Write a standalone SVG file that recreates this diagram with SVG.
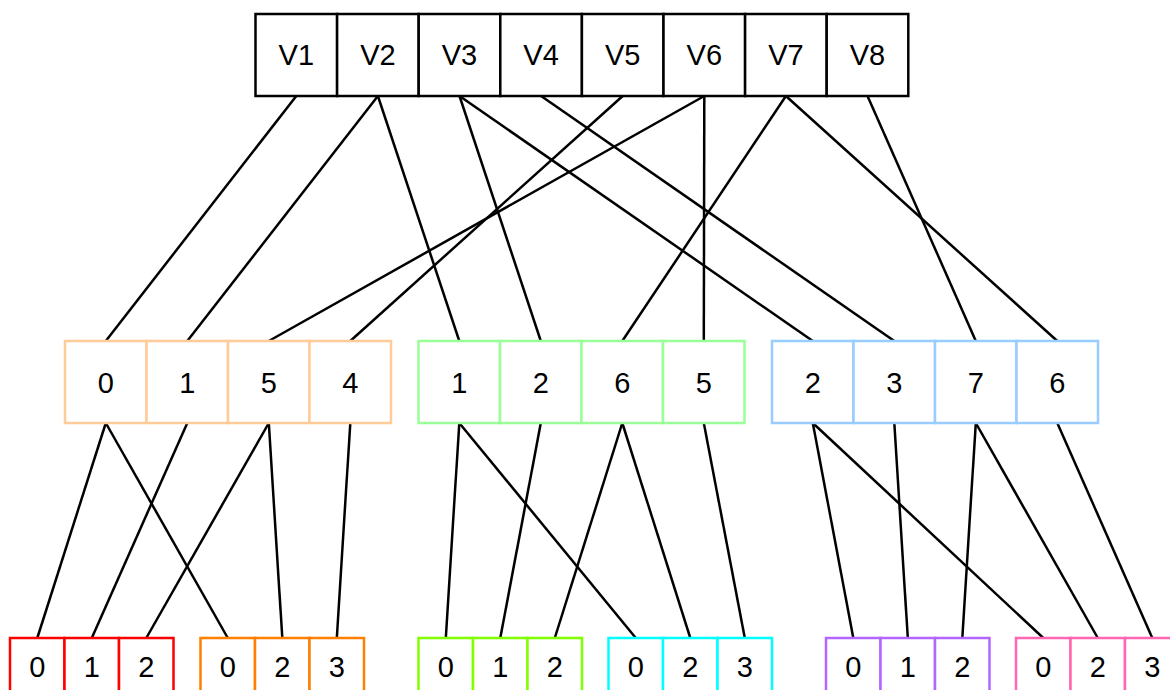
<svg xmlns="http://www.w3.org/2000/svg" width="1170" height="690" viewBox="0 0 1170 690">
<style>
  .bg { fill: #ffffff; }
  .cell { fill: #ffffff; stroke-width: 2.5; }
  .top { stroke: #000000; }
  .m-or { stroke: #FFCC99; }
  .m-gr { stroke: #99FF99; }
  .m-bl { stroke: #99CCFF; }
  .b-red { stroke: #FF0000; }
  .b-or { stroke: #FF8000; }
  .b-gr { stroke: #80FF00; }
  .b-cy { stroke: #00FFFF; }
  .b-pu { stroke: #B266FF; }
  .b-pk { stroke: #FF66B3; }
  text { font-family: "Liberation Sans", Arial, sans-serif; font-size: 29px; fill: #000000; text-anchor: middle; }
  .edges line { stroke: #000000; stroke-width: 2.5; fill: none; }
</style>
<rect class="bg" x="0" y="0" width="1170" height="690"/>
<g id="connectors" class="edges">
  <line x1="296.3" y1="96" x2="105.8" y2="341"/>
  <line x1="377.9" y1="96" x2="187.3" y2="341"/>
  <line x1="377.9" y1="96" x2="459.3" y2="341"/>
  <line x1="459.5" y1="96" x2="540.8" y2="341"/>
  <line x1="459.5" y1="96" x2="812.8" y2="341"/>
  <line x1="541.1" y1="96" x2="894.3" y2="341"/>
  <line x1="622.7" y1="96" x2="350.3" y2="341"/>
  <line x1="704.3" y1="96" x2="268.8" y2="341"/>
  <line x1="704.3" y1="96" x2="703.8" y2="341"/>
  <line x1="785.9" y1="96" x2="622.3" y2="341"/>
  <line x1="785.9" y1="96" x2="1057.3" y2="341"/>
  <line x1="867.5" y1="96" x2="975.8" y2="341"/>
  <line x1="105.8" y1="423" x2="37.3" y2="638"/>
  <line x1="105.8" y1="423" x2="227.8" y2="638"/>
  <line x1="187.3" y1="423" x2="91.8" y2="638"/>
  <line x1="268.8" y1="423" x2="146.3" y2="638"/>
  <line x1="268.8" y1="423" x2="282.3" y2="638"/>
  <line x1="350.3" y1="423" x2="336.8" y2="638"/>
  <line x1="459.3" y1="423" x2="445.8" y2="638"/>
  <line x1="459.3" y1="423" x2="635.8" y2="638"/>
  <line x1="540.8" y1="423" x2="500.3" y2="638"/>
  <line x1="622.3" y1="423" x2="554.8" y2="638"/>
  <line x1="622.3" y1="423" x2="690.3" y2="638"/>
  <line x1="703.8" y1="423" x2="744.8" y2="638"/>
  <line x1="812.8" y1="423" x2="853.3" y2="638"/>
  <line x1="812.8" y1="423" x2="1043.3" y2="638"/>
  <line x1="894.3" y1="423" x2="907.8" y2="638"/>
  <line x1="975.8" y1="423" x2="962.3" y2="638"/>
  <line x1="975.8" y1="423" x2="1097.8" y2="638"/>
  <line x1="1057.3" y1="423" x2="1152.3" y2="638"/>
</g>
<g id="node-top">
  <rect class="cell top" x="255.5" y="14" width="81.6" height="82"/>
  <rect class="cell top" x="337.1" y="14" width="81.6" height="82"/>
  <rect class="cell top" x="418.7" y="14" width="81.6" height="82"/>
  <rect class="cell top" x="500.3" y="14" width="81.6" height="82"/>
  <rect class="cell top" x="581.9" y="14" width="81.6" height="82"/>
  <rect class="cell top" x="663.5" y="14" width="81.6" height="82"/>
  <rect class="cell top" x="745.1" y="14" width="81.6" height="82"/>
  <rect class="cell top" x="826.7" y="14" width="81.6" height="82"/>
  <text x="296.3" y="65">V1</text>
  <text x="377.9" y="65">V2</text>
  <text x="459.5" y="65">V3</text>
  <text x="541.1" y="65">V4</text>
  <text x="622.7" y="65">V5</text>
  <text x="704.3" y="65">V6</text>
  <text x="785.9" y="65">V7</text>
  <text x="867.5" y="65">V8</text>
</g>
<g id="node-mid-orange">
  <rect class="cell m-or" x="65" y="341" width="81.5" height="82"/>
  <rect class="cell m-or" x="146.5" y="341" width="81.5" height="82"/>
  <rect class="cell m-or" x="228" y="341" width="81.5" height="82"/>
  <rect class="cell m-or" x="309.5" y="341" width="81.5" height="82"/>
  <text x="105.8" y="392.5">0</text>
  <text x="187.3" y="392.5">1</text>
  <text x="268.8" y="392.5">5</text>
  <text x="350.3" y="392.5">4</text>
</g>
<g id="node-mid-green">
  <rect class="cell m-gr" x="418.5" y="341" width="81.5" height="82"/>
  <rect class="cell m-gr" x="500" y="341" width="81.5" height="82"/>
  <rect class="cell m-gr" x="581.5" y="341" width="81.5" height="82"/>
  <rect class="cell m-gr" x="663" y="341" width="81.5" height="82"/>
  <text x="459.3" y="392.5">1</text>
  <text x="540.8" y="392.5">2</text>
  <text x="622.3" y="392.5">6</text>
  <text x="703.8" y="392.5">5</text>
</g>
<g id="node-mid-blue">
  <rect class="cell m-bl" x="772" y="341" width="81.5" height="82"/>
  <rect class="cell m-bl" x="853.5" y="341" width="81.5" height="82"/>
  <rect class="cell m-bl" x="935" y="341" width="81.5" height="82"/>
  <rect class="cell m-bl" x="1016.5" y="341" width="81.5" height="82"/>
  <text x="812.8" y="392.5">2</text>
  <text x="894.3" y="392.5">3</text>
  <text x="975.8" y="392.5">7</text>
  <text x="1057.3" y="392.5">6</text>
</g>
<g id="node-bot-red">
  <rect class="cell b-red" x="10" y="638" width="54.5" height="55"/>
  <rect class="cell b-red" x="64.5" y="638" width="54.5" height="55"/>
  <rect class="cell b-red" x="119" y="638" width="54.5" height="55"/>
  <text x="37.3" y="676.5">0</text>
  <text x="91.8" y="676.5">1</text>
  <text x="146.3" y="676.5">2</text>
</g>
<g id="node-bot-orange">
  <rect class="cell b-or" x="200.5" y="638" width="54.5" height="55"/>
  <rect class="cell b-or" x="255" y="638" width="54.5" height="55"/>
  <rect class="cell b-or" x="309.5" y="638" width="54.5" height="55"/>
  <text x="227.8" y="676.5">0</text>
  <text x="282.3" y="676.5">2</text>
  <text x="336.8" y="676.5">3</text>
</g>
<g id="node-bot-green">
  <rect class="cell b-gr" x="418.5" y="638" width="54.5" height="55"/>
  <rect class="cell b-gr" x="473" y="638" width="54.5" height="55"/>
  <rect class="cell b-gr" x="527.5" y="638" width="54.5" height="55"/>
  <text x="445.8" y="676.5">0</text>
  <text x="500.3" y="676.5">1</text>
  <text x="554.8" y="676.5">2</text>
</g>
<g id="node-bot-cyan">
  <rect class="cell b-cy" x="608.5" y="638" width="54.5" height="55"/>
  <rect class="cell b-cy" x="663" y="638" width="54.5" height="55"/>
  <rect class="cell b-cy" x="717.5" y="638" width="54.5" height="55"/>
  <text x="635.8" y="676.5">0</text>
  <text x="690.3" y="676.5">2</text>
  <text x="744.8" y="676.5">3</text>
</g>
<g id="node-bot-purple">
  <rect class="cell b-pu" x="826" y="638" width="54.5" height="55"/>
  <rect class="cell b-pu" x="880.5" y="638" width="54.5" height="55"/>
  <rect class="cell b-pu" x="935" y="638" width="54.5" height="55"/>
  <text x="853.3" y="676.5">0</text>
  <text x="907.8" y="676.5">1</text>
  <text x="962.3" y="676.5">2</text>
</g>
<g id="node-bot-pink">
  <rect class="cell b-pk" x="1016" y="638" width="54.5" height="55"/>
  <rect class="cell b-pk" x="1070.5" y="638" width="54.5" height="55"/>
  <rect class="cell b-pk" x="1125" y="638" width="54.5" height="55"/>
  <text x="1043.3" y="676.5">0</text>
  <text x="1097.8" y="676.5">2</text>
  <text x="1152.3" y="676.5">3</text>
</g>
</svg>
